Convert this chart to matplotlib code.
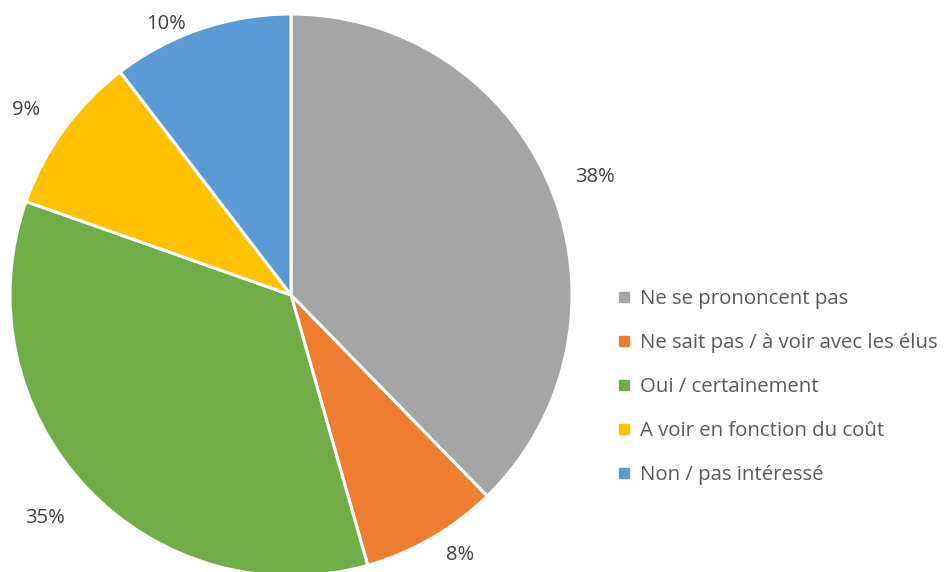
import numpy as np
import matplotlib.pyplot as plt
from matplotlib.lines import Line2D

plt.rcParams['font.family'] = ['Open Sans', 'DejaVu Sans']

# Survey answers, share in percent
categories = ['Ne se prononcent pas', 'Ne sait pas / à voir avec les élus',
              'Oui / certainement', 'A voir en fonction du coût', 'Non / pas intéressé']
shares = [37.7, 7.9, 34.8, 9.2, 10.4]
colors = ['#A5A5A5', '#ED7D31', '#70AD47', '#FFC000', '#5B9BD5']
# radial distance / angle nudge for each percent label (best-fit like Excel)
label_dist = [1.16, 1.105, 1.18, 1.15, 1.06]
label_shift = [-1, 3, -1, 1, 6]

fig = plt.figure(figsize=(9.47, 5.72), dpi=100)
W, H = 947, 572
cx, cy, r = 291, 295, 281
ax = fig.add_axes([(cx - r) / W, (H - cy - r) / H, 2 * r / W, 2 * r / H])

wedges, texts, autotexts = ax.pie(
    shares, colors=colors, startangle=90, counterclock=False,
    autopct='%.0f%%', radius=1,
    wedgeprops=dict(edgecolor='white', linewidth=2.2),
    textprops=dict(fontsize=14.5, color='#404040'))
for w, t, d, s in zip(wedges, autotexts, label_dist, label_shift):
    w.set_clip_on(False)
    ang = np.deg2rad((w.theta1 + w.theta2) / 2 + s)
    t.set_position((d * np.cos(ang), d * np.sin(ang)))
    t.set_clip_on(False)
ax.set_xlim(-1, 1)
ax.set_ylim(-1, 1)
ax.set_aspect('equal')
ax.axis('off')

# legend with square markers
handles = [Line2D([0], [0], marker='s', linestyle='', markersize=7.5,
                  markerfacecolor=c, markeredgecolor=c) for c in colors]
leg = fig.legend(handles, categories, loc='center left',
                 bbox_to_anchor=(618 / W, 1 - 387 / H), frameon=False,
                 fontsize=14.7, labelspacing=1.18, handlelength=0.6,
                 handletextpad=0.5, borderaxespad=0, borderpad=0)
for t in leg.get_texts():
    t.set_color('#595959')

fig.savefig('out.png', dpi=100)
